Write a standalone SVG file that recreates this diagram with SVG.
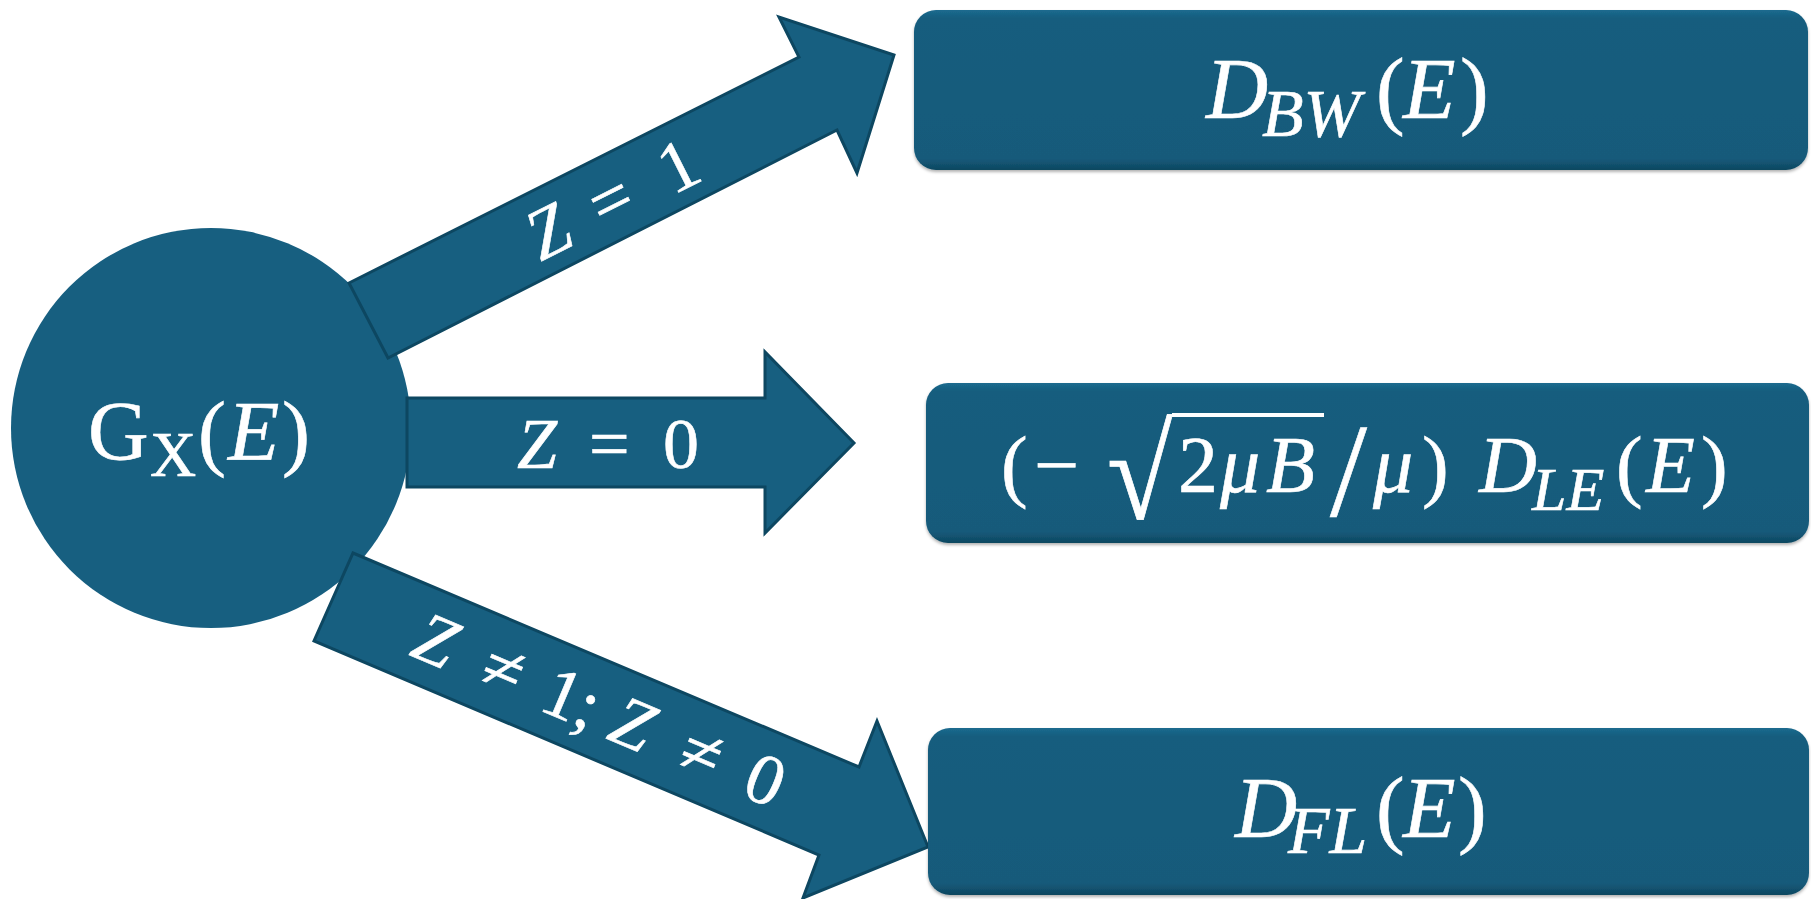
<svg xmlns="http://www.w3.org/2000/svg" width="1811" height="899" viewBox="0 0 1811 899">
<defs>
<linearGradient id="boxg" x1="0" y1="0" x2="0" y2="1">
<stop offset="0" stop-color="#1B6B8F"/>
<stop offset="0.05" stop-color="#165D7E"/>
<stop offset="0.93" stop-color="#155A7A"/>
<stop offset="1" stop-color="#0E4760"/>
</linearGradient>
<filter id="sh" x="-5%" y="-10%" width="110%" height="125%">
<feDropShadow dx="0" dy="2" stdDeviation="1.5" flood-color="#000" flood-opacity="0.3"/>
</filter>
</defs>
<style>
.node{fill:#175F80;}
.box{fill:url(#boxg);filter:url(#sh);}
.arrow{fill:#175F80;stroke:#0D4761;stroke-width:3;stroke-linejoin:miter;}
.t{fill:#FFFFFF;stroke:#FFFFFF;stroke-width:0.6;font-family:"Liberation Serif","Times New Roman",serif;}
.i{font-style:italic;}
</style>

<g id="node-gx">
<circle class="node" cx="211" cy="428" r="200"/>
<text class="t" font-size="84" y="460"><tspan x="88">G</tspan><tspan x="150" y="476" font-size="64">X</tspan><tspan x="198" y="460">(</tspan><tspan x="228" class="i">E</tspan><tspan x="282">)</tspan></text>
</g>

<g id="connectors">
<g id="arrow-z1">
<polygon class="arrow" points="349,283 799,57 779,17 894,55 857,173 837,130 388,358"/>
<text class="t" transform="translate(614,198) rotate(-26.74)" y="24" font-size="72"><tspan x="-94" class="i">Z</tspan><tspan x="-24">=</tspan><tspan x="54">1</tspan></text>
</g>
<g id="arrow-z0">
<polygon class="arrow" points="407,398 765,398 765,352 854,443 765,533 765,487 407,487"/>
<text class="t" y="468" font-size="72"><tspan x="517" class="i">Z</tspan><tspan x="589">=</tspan><tspan x="663">0</tspan></text>
</g>
<g id="arrow-zother">
<polygon class="arrow" points="353,553 859,767 877,721 928,847 803,898 819,855 314,641"/>
<text class="t" transform="translate(596,708) rotate(22.94)" y="24" font-size="72"><tspan x="-194" class="i">Z</tspan><tspan x="-120">≠</tspan><tspan x="-54">1</tspan><tspan x="-18">;</tspan><tspan x="20" class="i">Z</tspan><tspan x="95">≠</tspan><tspan x="166">0</tspan></text>
</g>
</g>

<g id="node-dbw">
<rect class="box" x="914" y="10" width="894" height="160" rx="22"/>
<text class="t" font-size="86" y="118"><tspan x="1206" class="i">D</tspan><tspan x="1262" y="136" font-size="68" class="i">BW</tspan><tspan x="1376" y="118">(</tspan><tspan x="1403" class="i">E</tspan><tspan x="1460">)</tspan></text>
</g>

<g id="node-dle">
<rect class="box" x="926" y="383" width="883" height="160" rx="22"/>
<text class="t" font-size="80" y="492"><tspan x="1001">(</tspan><tspan x="1034">−</tspan><tspan x="1178">2</tspan><tspan x="1220" class="i">μ</tspan><tspan x="1266" class="i">B</tspan><tspan x="1373" class="i">μ</tspan><tspan x="1422">)</tspan><tspan x="1479" class="i">D</tspan><tspan x="1532" y="510" font-size="62" class="i">LE</tspan><tspan x="1616" y="492">(</tspan><tspan x="1646" class="i">E</tspan><tspan x="1701">)</tspan></text>
<text class="t" font-size="104" stroke-width="0" transform="translate(1107,519) scale(1.15,1.27)">√</text>
<text class="t" font-size="133" x="1330" y="516">/</text>
<line x1="1172" y1="415" x2="1324" y2="415" stroke="#FFFFFF" stroke-width="4"/>
</g>

<g id="node-dfl">
<rect class="box" x="928" y="728" width="881" height="167" rx="22"/>
<text class="t" font-size="86" y="837"><tspan x="1235" class="i">D</tspan><tspan x="1288" y="853" font-size="68" class="i">FL</tspan><tspan x="1376" y="837">(</tspan><tspan x="1403" class="i">E</tspan><tspan x="1458">)</tspan></text>
</g>
</svg>
